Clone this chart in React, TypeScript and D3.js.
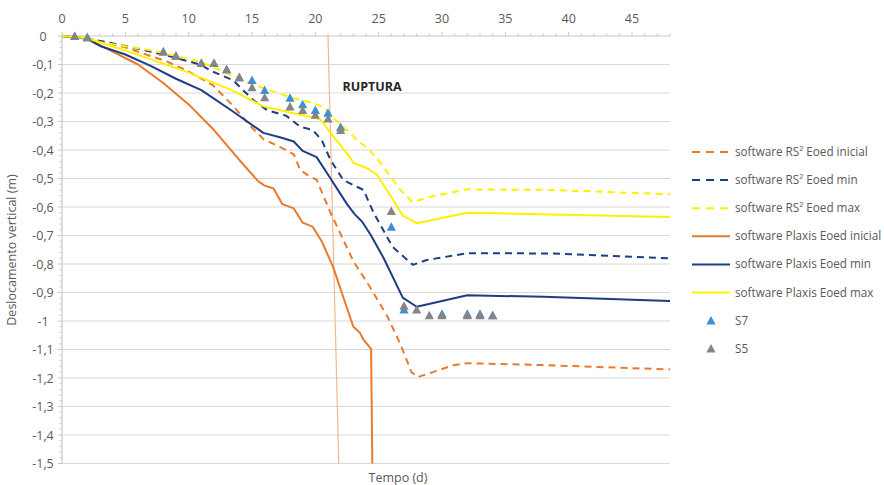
import React from "react";
import * as d3 from "d3";

// Time axis (days) and vertical displacement axis (m)
const xTicks = [0, 5, 10, 15, 20, 25, 30, 35, 40, 45];
const yTicks = [0, -0.1, -0.2, -0.3, -0.4, -0.5, -0.6, -0.7, -0.8, -0.9, -1, -1.1, -1.2, -1.3, -1.4, -1.5];
const yTickLabels = ["0", "-0,1", "-0,2", "-0,3", "-0,4", "-0,5", "-0,6", "-0,7", "-0,8", "-0,9", "-1", "-1,1", "-1,2", "-1,3", "-1,4", "-1,5"];

type Pt = [number, number];

// RS² model curves
const rsInicial: Pt[] = [
  [0, 0], [2, -0.008], [5, -0.04], [8.3, -0.09], [9.8, -0.12], [11.9, -0.172], [13.5, -0.245],
  [14.8, -0.312], [15.9, -0.362], [17.5, -0.396], [18.3, -0.415], [18.8, -0.47], [19.4, -0.488],
  [20.1, -0.505], [21.2, -0.62], [23, -0.79], [24.3, -0.88], [25.7, -0.985], [26.7, -1.08],
  [27.6, -1.18], [28.1, -1.197], [30.9, -1.155], [32, -1.148], [38.3, -1.155], [48, -1.17],
];
const rsMin: Pt[] = [
  [0, 0], [2, -0.008], [5, -0.035], [8, -0.065], [10.9, -0.1], [11.9, -0.125], [13.5, -0.155],
  [15.1, -0.225], [16.2, -0.26], [17.7, -0.28], [18.8, -0.318], [19.8, -0.33], [20.5, -0.365],
  [21.2, -0.435], [22.2, -0.505], [23, -0.523], [23.8, -0.54], [24.6, -0.62], [26.1, -0.74],
  [27.7, -0.803], [28.8, -0.786], [32, -0.762], [38.5, -0.763], [48, -0.78],
];
const rsMax: Pt[] = [
  [0, 0], [2, -0.006], [3, -0.022], [7, -0.05], [10.9, -0.09], [14.8, -0.165], [18, -0.215],
  [19.8, -0.235], [20.6, -0.248], [21.4, -0.288], [22.2, -0.318], [23.3, -0.365], [24.1, -0.393],
  [24.9, -0.43], [26.7, -0.54], [27.7, -0.583], [29, -0.565], [32, -0.538], [38.5, -0.54], [48, -0.555],
];

// Plaxis model curves
const plaxisInicial: Pt[] = [
  [0, 0], [2, -0.008], [4, -0.055], [6, -0.1], [8, -0.165], [10, -0.24], [12, -0.33], [14, -0.435],
  [15.5, -0.51], [16, -0.525], [16.7, -0.535], [17.4, -0.59], [18.3, -0.605], [19, -0.655],
  [19.8, -0.67], [20.5, -0.72], [21.4, -0.81], [23, -1.02], [23.5, -1.04], [23.8, -1.065],
  [24.4, -1.098], [24.5, -1.5],
];
const plaxisMin: Pt[] = [
  [0, 0], [2, -0.01], [3, -0.035], [5, -0.065], [7, -0.105], [9, -0.15], [11, -0.19], [13.5, -0.265],
  [15.9, -0.34], [17.2, -0.355], [18.3, -0.37], [19, -0.403], [20.1, -0.425], [21.2, -0.5],
  [22.5, -0.59], [23.1, -0.625], [23.7, -0.652], [24.4, -0.7], [25.4, -0.78], [26.9, -0.918],
  [28, -0.95], [32, -0.91], [38, -0.915], [48, -0.93],
];
const plaxisMax: Pt[] = [
  [0, 0], [2, -0.008], [5.6, -0.06], [9.8, -0.125], [13.4, -0.19], [15.9, -0.247], [17.7, -0.265],
  [18.8, -0.276], [19.8, -0.285], [20.4, -0.293], [21.2, -0.34], [22.7, -0.424], [23, -0.445],
  [24.1, -0.464], [24.9, -0.488], [26.9, -0.63], [28, -0.657], [32, -0.62], [38.5, -0.626], [48, -0.635],
];

// Field measurements
const s7: Pt[] = [
  [1, 0], [2, -0.005], [8, -0.055], [9, -0.07], [11, -0.095], [12, -0.095], [13, -0.117], [14, -0.145],
  [15, -0.155], [16, -0.19], [18, -0.217], [19, -0.24], [20, -0.26], [21, -0.27], [22, -0.32],
  [26, -0.67], [27, -0.96], [30, -0.975], [32, -0.975], [33, -0.975], [34, -0.98],
];
const s5: Pt[] = [
  [1, 0], [2, -0.005], [8, -0.055], [9, -0.07], [11, -0.095], [12, -0.095], [13, -0.117], [14, -0.145],
  [15, -0.18], [16, -0.215], [18, -0.248], [19, -0.26], [20, -0.277], [21, -0.29], [22, -0.33],
  [26, -0.614], [27, -0.947], [28, -0.96], [29, -0.98], [30, -0.98], [32, -0.98], [33, -0.98], [34, -0.98],
];

// Failure marker
const ruptura: Pt[] = [[21, 0], [21.85, -1.5]];

const ORANGE = "#E97A2C";
const NAVY = "#1F3C86";
const YELLOW = "#FFF000";
const BLUE = "#3E8FD4";
const GRAY = "#858585";
const TEXT = "#595959";
const FONT = "'Open Sans', 'Liberation Sans', sans-serif";

const lineSeries = [
  { name: "software RS² Eoed inicial", data: rsInicial, color: ORANGE, dash: "7,5" },
  { name: "software RS² Eoed min", data: rsMin, color: NAVY, dash: "7,5" },
  { name: "software RS² Eoed max", data: rsMax, color: YELLOW, dash: "7,5" },
  { name: "software Plaxis Eoed inicial", data: plaxisInicial, color: ORANGE, dash: "" },
  { name: "software Plaxis Eoed min", data: plaxisMin, color: NAVY, dash: "" },
  { name: "software Plaxis Eoed max", data: plaxisMax, color: YELLOW, dash: "" },
];
const markerSeries = [
  { name: "S7", data: s7, color: BLUE },
  { name: "S5", data: s5, color: GRAY },
];

const W = 884;
const H = 485;

function Triangle({ cx, cy, color }: { cx: number; cy: number; color: string }) {
  const s = 4.6;
  return (
    <path
      d={`M${cx},${cy - s}L${cx + s},${cy + s * 0.85}L${cx - s},${cy + s * 0.85}Z`}
      fill={color}
    />
  );
}

export default function App() {
  const x = d3.scaleLinear().domain([0, 48]).range([62, 670]);
  const y = d3.scaleLinear().domain([0, -1.5]).range([36, 463.5]);
  const line = d3
    .line<Pt>()
    .x((d) => x(d[0]))
    .y((d) => y(d[1]));

  const minorX = d3.range(0, 49, 1);
  const minorY = d3.range(0, -1.5001, -0.02);

  const legendX0 = 692;
  const legendY0 = 152;
  const legendStep = 28.1;

  return (
    <svg
      width={W}
      height={H}
      viewBox={`0 0 ${W} ${H}`}
      style={{ position: "absolute", left: 0, top: 0, background: "#fff" }}
      fontFamily={FONT}
    >
      <rect x={0} y={0} width={W} height={H} fill="#fff" />

      {/* horizontal gridlines */}
      {yTicks.slice(1).map((t) => (
        <line key={t} x1={x(0)} x2={x(48)} y1={y(t)} y2={y(t)} stroke="#d9d9d9" strokeWidth={1.2} />
      ))}

      {/* top time axis */}
      <line x1={x(0)} x2={x(48)} y1={y(0)} y2={y(0)} stroke="#c8c8c8" strokeWidth={1.2} />
      {minorX.map((t) => (
        <line
          key={t}
          x1={x(t)}
          x2={x(t)}
          y1={y(0)}
          y2={y(0) - (t % 5 === 0 ? 4 : 2.5)}
          stroke="#c8c8c8"
          strokeWidth={1}
        />
      ))}
      {xTicks.map((t) => (
        <text key={t} x={x(t)} y={23} textAnchor="middle" fontSize={12.5} fill={TEXT}>
          {t}
        </text>
      ))}

      {/* left displacement axis */}
      <line x1={x(0)} x2={x(0)} y1={y(0)} y2={y(-1.5)} stroke="#c8c8c8" strokeWidth={1.2} />
      {minorY.map((t, i) => (
        <line
          key={i}
          x1={x(0)}
          x2={x(0) - (i % 5 === 0 ? 4 : 2.5)}
          y1={y(t)}
          y2={y(t)}
          stroke="#c8c8c8"
          strokeWidth={1}
        />
      ))}
      {yTicks.map((t, i) => (
        <text key={t} x={43} y={y(t) + 4.5} textAnchor="middle" fontSize={12.5} fill={TEXT}>
          {yTickLabels[i]}
        </text>
      ))}

      <text
        transform={`translate(16,${250}) rotate(-90)`}
        textAnchor="middle"
        fontSize={12.5}
        fill={TEXT}
      >
        Deslocamento vertical (m)
      </text>
      <text x={398} y={482} textAnchor="middle" fontSize={12.5} fill={TEXT}>
        Tempo (d)
      </text>

      {/* failure line */}
      <path d={line(ruptura) ?? ""} stroke="#F5B88A" strokeWidth={1.2} fill="none" />
      <text x={372} y={91} textAnchor="middle" fontSize={12.5} fontWeight={700} fill="#262626">
        RUPTURA
      </text>

      {/* model curves */}
      {lineSeries.map((s) => (
        <path
          key={s.name}
          d={line(s.data) ?? ""}
          fill="none"
          stroke={s.color}
          strokeWidth={2}
          strokeDasharray={s.dash || undefined}
          strokeLinejoin="round"
        />
      ))}

      {/* measurements */}
      {markerSeries.map((s) => (
        <g key={s.name}>
          {s.data.map((d, i) => (
            <Triangle key={i} cx={x(d[0])} cy={y(d[1])} color={s.color} />
          ))}
        </g>
      ))}

      {/* legend */}
      {lineSeries.map((s, i) => {
        const ly = legendY0 + i * legendStep;
        return (
          <g key={s.name}>
            <line
              x1={legendX0}
              x2={legendX0 + 38}
              y1={ly}
              y2={ly}
              stroke={s.color}
              strokeWidth={2}
              strokeDasharray={s.dash ? "8,6" : undefined}
            />
            <text x={legendX0 + 43} y={ly + 4} fontSize={11.7} fill={TEXT}>
              {s.name}
            </text>
          </g>
        );
      })}
      {markerSeries.map((s, i) => {
        const ly = legendY0 + (i + 6) * legendStep;
        return (
          <g key={s.name}>
            <Triangle cx={legendX0 + 19} cy={ly} color={s.color} />
            <text x={legendX0 + 43} y={ly + 4} fontSize={11.7} fill={TEXT}>
              {s.name}
            </text>
          </g>
        );
      })}
    </svg>
  );
}
